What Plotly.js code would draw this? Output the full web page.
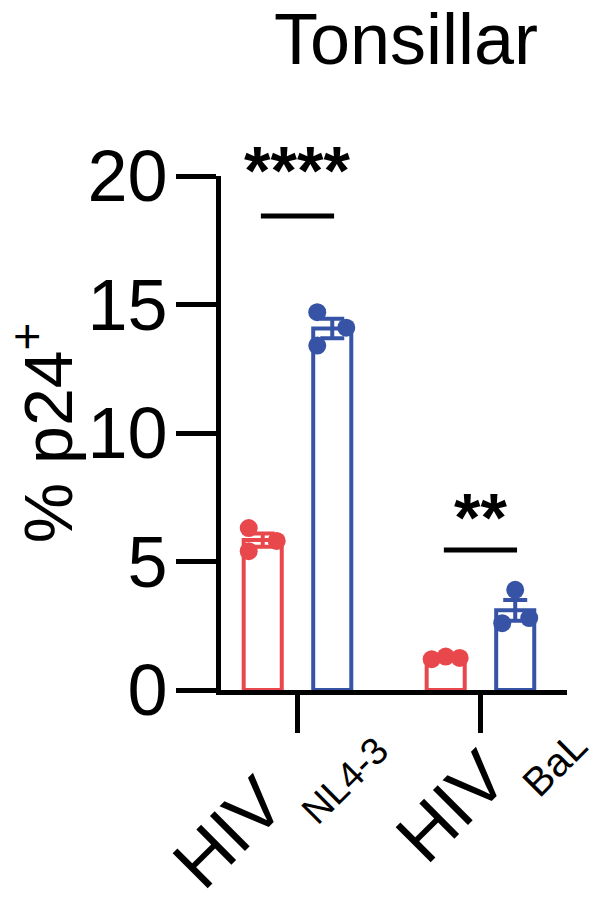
<!DOCTYPE html>
<html><head><meta charset="utf-8">
<script src="https://cdn.plot.ly/plotly-3.0.1.min.js"></script>
<style>html,body{margin:0;padding:0;background:#fff}#chart{width:601px;height:912px}</style>
</head><body><div id="chart"></div>
<script>
// ---- data ----
const categories = ['NL4-3', 'BaL'];
const categoryMain = ['HIV', 'HIV'];
const categorySub = ['NL4-3', 'BaL'];
const seriesNames = ['Series 1', 'Series 2'];
const series1Values = [[6.3, 5.4, 5.8], [1.2, 1.3, 1.25]];
const series2Values = [[14.7, 13.4, 14.1], [2.6, 3.9, 2.8]];
const sigLabels = ['****', '**'];
const yTickVals = [0, 5, 10, 15, 20];
const titleText = 'Tonsillar';
const yTitleText = '% p24<sup>+</sup>';

// ---- style / positions ----
const FONT = 'Arial, "Liberation Sans", sans-serif';
const colors = ['#E8484C', '#3753A6'];
const barOffset = [-0.19, 0.19];
const barWidth = 0.208;
const xRange = [-0.418, 1.473];
const yRange = [0, 20];
const margin = {l: 221, r: 34, t: 176, b: 222};
const plotW = 601 - margin.l - margin.r;
const pxPerUnit = plotW / (xRange[1] - xRange[0]);
const jitterPx = [[[-14, -14, 14], [-14, 0, 14]], [[-15, -15, 14], [-13, 0, 14]]];
const sigLineY = [18.44, 5.45];
const sigTextY = [20.6, 7.1];
const sigHalf = [0.2, 0.2];
const mainShift = [[-69, -142], [-29, -116]];
const subShift = [[48, -90], [74, -74]];
const mainSize = 72;
const subSize = [38, 40];

const allSeries = [series1Values, series2Values];
const mean = a => a.reduce((s, v) => s + v, 0) / a.length;
const sem = a => { const m = mean(a); const v = a.reduce((s, x) => s + (x - m) * (x - m), 0) / (a.length - 1); return Math.sqrt(v / a.length); };

const traces = [];
allSeries.forEach((vals, s) => {
  traces.push({
    type: 'bar', name: seriesNames[s],
    x: categories.map((c, i) => i + barOffset[s]),
    y: vals.map(mean), width: barWidth,
    marker: {color: 'rgba(255,255,255,1)', line: {color: colors[s], width: 4}},
    hoverinfo: 'skip'
  });
});
allSeries.forEach((vals, s) => {
  const xs = [], ys = [];
  vals.forEach((pts, i) => pts.forEach((v, k) => { xs.push(i + barOffset[s] + jitterPx[s][i][k] / pxPerUnit); ys.push(v); }));
  traces.push({type: 'scatter', mode: 'markers', x: xs, y: ys, name: seriesNames[s],
    marker: {size: 18, color: colors[s]}, hoverinfo: 'skip'});
});
allSeries.forEach((vals, s) => {
  traces.push({type: 'scatter', mode: 'markers', name: seriesNames[s],
    x: categories.map((c, i) => i + barOffset[s]), y: vals.map(mean),
    marker: {size: 1, color: 'rgba(0,0,0,0)'},
    error_y: {type: 'data', array: vals.map(sem), color: colors[s], thickness: 4, width: 12},
    hoverinfo: 'skip'});
});

const shapes = categories.map((c, i) => ({type: 'line', xref: 'x', yref: 'y',
  x0: i - sigHalf[i], x1: i + sigHalf[i], y0: sigLineY[i], y1: sigLineY[i],
  line: {color: '#000', width: 5}}));

const annotations = [];
categories.forEach((c, i) => {
  annotations.push({xref: 'x', yref: 'paper', x: i, y: (sigTextY[i] - yRange[0]) / (yRange[1] - yRange[0]),
    text: sigLabels[i], showarrow: false,
    xanchor: 'center', yanchor: 'middle', yshift: -9,
    font: {family: FONT, size: 68, color: '#000', weight: 'bold'}});
  annotations.push({xref: 'x', yref: 'paper', x: i, y: 0, text: categoryMain[i], showarrow: false,
    textangle: -45, xanchor: 'center', yanchor: 'middle',
    xshift: mainShift[i][0], yshift: mainShift[i][1],
    font: {family: FONT, size: mainSize, color: '#000'}});
  annotations.push({xref: 'x', yref: 'paper', x: i, y: 0, text: categorySub[i], showarrow: false,
    textangle: -45, xanchor: 'center', yanchor: 'middle',
    xshift: subShift[i][0], yshift: subShift[i][1],
    font: {family: FONT, size: subSize[i], color: '#000'}});
});

const layout = {
  width: 601, height: 912, margin: margin, showlegend: false,
  paper_bgcolor: '#fff', plot_bgcolor: '#fff',
  font: {family: FONT, color: '#000'},
  title: {text: titleText, font: {family: FONT, size: 72, color: '#000'},
    xref: 'container', x: 406 / 601, xanchor: 'center', yref: 'container', y: 1 - 13.5 / 912, yanchor: 'top'},
  xaxis: {range: xRange, tickvals: categories.map((c, i) => i), showticklabels: false,
    ticks: 'outside', ticklen: 38, tickwidth: 5, tickcolor: '#000',
    showline: true, linewidth: 5, linecolor: '#000', showgrid: false, zeroline: false, fixedrange: true},
  yaxis: {range: yRange, tickvals: yTickVals, ticks: 'outside', ticklen: 40, tickwidth: 5, tickcolor: '#000',
    showline: true, linewidth: 5, linecolor: '#000', showgrid: false, zeroline: false, fixedrange: true,
    tickfont: {family: FONT, size: 72, color: '#000'}, ticklabelstandoff: -6,
    title: {text: yTitleText, font: {family: FONT, size: 68, color: '#000'}, standoff: -6}},
  shapes: shapes, annotations: annotations
};
Plotly.newPlot('chart', traces, layout, {displayModeBar: false, staticPlot: true});
</script></body></html>
